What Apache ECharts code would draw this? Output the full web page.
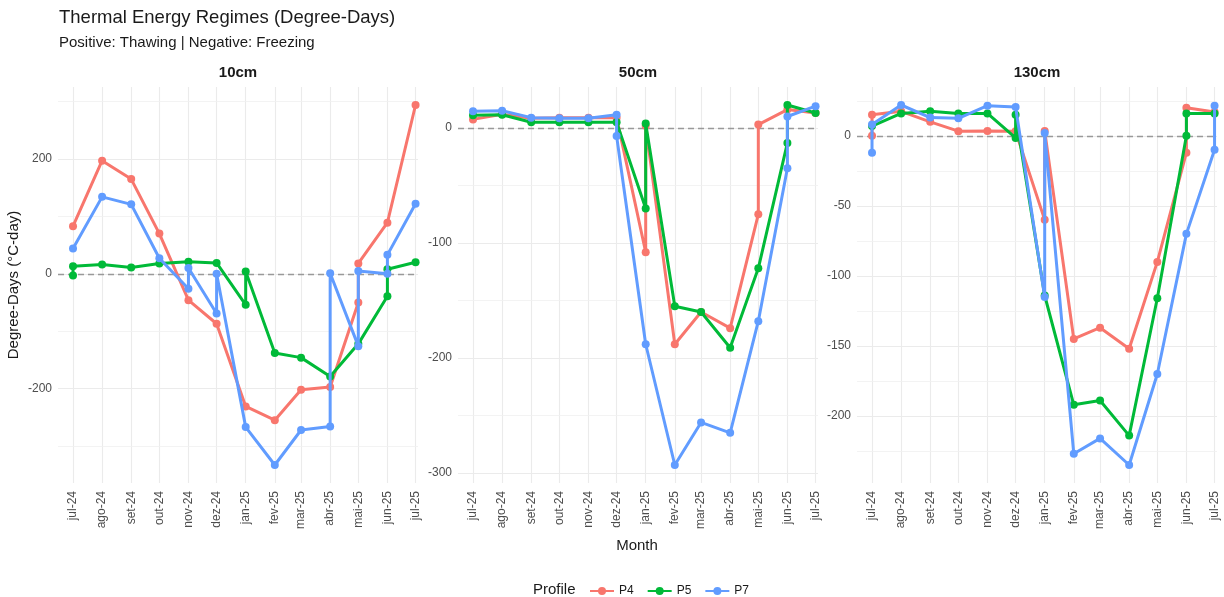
<!DOCTYPE html>
<html><head><meta charset="utf-8">
<script src="https://cdn.jsdelivr.net/npm/echarts@6/dist/echarts.min.js"></script>
<style>html,body{margin:0;padding:0;background:#fff}#c{width:1224px;height:597px}</style>
</head><body><div id="c"></div>
<script>
// ---- tick labels / categories ----
const monthLabels = ['jul-24','ago-24','set-24','out-24','nov-24','dez-24','jan-25','fev-25','mar-25','abr-25','mai-25','jun-25','jul-25'];
const monthDates  = ['2024-07-01','2024-08-01','2024-09-01','2024-10-01','2024-11-01','2024-12-01','2025-01-01','2025-02-01','2025-03-01','2025-04-01','2025-05-01','2025-06-01','2025-07-01'];
const depths = ['10cm','50cm','130cm'];
const profiles = ['P4','P5','P7'];
const profileColors = ['#F8766D','#00BA38','#619CFF'];

// ---- series values [month, degree-days] ----
const p4_10cm = [['jul-24',83],['ago-24',197],['set-24',165],['out-24',70],['nov-24',-46],['dez-24',-87],['jan-25',-231],['fev-25',-255],['mar-25',-202],['abr-25',-197],['mai-25',-50],['mai-25',18],['jun-25',89],['jul-25',294]];
const p5_10cm = [['jul-24',-3],['jul-24',13],['ago-24',16],['set-24',11],['out-24',18],['nov-24',21],['dez-24',19],['jan-25',-54],['jan-25',4],['fev-25',-138],['mar-25',-146],['abr-25',-179],['mai-25',-122],['jun-25',-39],['jun-25',8],['jul-25',20]];
const p7_10cm = [['jul-24',44],['ago-24',134],['set-24',121],['out-24',27],['nov-24',-26],['nov-24',10],['dez-24',-69],['dez-24',0],['jan-25',-267],['fev-25',-333],['mar-25',-272],['abr-25',-266],['abr-25',1],['mai-25',-126],['mai-25',5],['jun-25',0],['jun-25',33],['jul-25',122]];

const p4_50cm = [['jul-24',7.5],['ago-24',12],['set-24',8.5],['out-24',9],['nov-24',9],['dez-24',9],['jan-25',-108],['jan-25',2],['fev-25',-188],['mar-25',-160],['abr-25',-174],['mai-25',-75],['mai-25',3],['jun-25',16],['jul-25',13]];
const p5_50cm = [['jul-24',11],['ago-24',11.5],['set-24',5],['out-24',5],['nov-24',5],['dez-24',5],['jan-25',-70],['jan-25',4],['fev-25',-155],['mar-25',-160],['abr-25',-191],['mai-25',-122],['jun-25',-13],['jun-25',20],['jul-25',13]];
const p7_50cm = [['jul-24',14.5],['ago-24',15],['set-24',9],['out-24',8.5],['nov-24',8.5],['dez-24',11.5],['dez-24',-7],['jan-25',-188],['fev-25',-293],['mar-25',-256],['abr-25',-265],['mai-25',-168],['jun-25',-35],['jun-25',10],['jul-25',19]];

const p4_130cm = [['jul-24',0],['jul-24',15],['ago-24',17.5],['set-24',10],['out-24',3.3],['nov-24',3.5],['dez-24',3.3],['jan-25',-60],['jan-25',3.5],['fev-25',-145],['mar-25',-137],['abr-25',-152],['mai-25',-90],['jun-25',-12],['jun-25',20],['jul-25',17]];
const p5_130cm = [['jul-24',7],['ago-24',16],['set-24',17.5],['out-24',16],['nov-24',16],['dez-24',-1.5],['dez-24',15],['jan-25',-114],['fev-25',-192],['mar-25',-189],['abr-25',-214],['mai-25',-116],['jun-25',0],['jun-25',16],['jul-25',16]];
const p7_130cm = [['jul-24',-12],['jul-24',8],['ago-24',22],['set-24',13],['out-24',12.5],['nov-24',21.5],['dez-24',20.5],['jan-25',-115],['jan-25',2],['fev-25',-227],['mar-25',-216],['abr-25',-235],['mai-25',-170],['jun-25',-70],['jul-25',-10],['jul-25',21.5]];

// ---- y tick labels and grid breaks ----
const yMajor10 = [-200,0,200],  yMinor10 = [-300,-100,100,300];
const yMajor50 = [-300,-200,-100,0], yMinor50 = [-250,-150,-50];
const yMajor130 = [-200,-150,-100,-50,0], yMinor130 = [-225,-175,-125,-75,-25,25];

const panelData = [[p4_10cm,p5_10cm,p7_10cm],[p4_50cm,p5_50cm,p7_50cm],[p4_130cm,p5_130cm,p7_130cm]];
const majors = [yMajor10,yMajor50,yMajor130];
const minors = [yMinor10,yMinor50,yMinor130];

// ---- layout ----
const FONT = "'Liberation Sans', Arial, Helvetica, sans-serif";
const gridLefts = [58, 458, 857];
const gridW = 360, gridTop = 87, gridH = 396;
const DAY = 86400000;
const xMin = new Date('2024-07-01T00:00:00').getTime() - 16*DAY;
const xMax = new Date('2025-07-01T00:00:00').getTime() + 2.6*DAY;

const toDate = m => monthDates[monthLabels.indexOf(m)] + 'T00:00:00';
const labelFor = v => {
  const d = new Date(v);
  if (d.getDate() !== 1 || d.getHours() !== 0) return '';
  const key = d.getFullYear() + '-' + String(d.getMonth()+1).padStart(2,'0') + '-01';
  const i = monthDates.indexOf(key);
  return i >= 0 ? monthLabels[i] : '';
};

const grids = [], xAxes = [], yAxes = [], series = [];
depths.forEach((dep, i) => {
  grids.push({left: gridLefts[i], top: gridTop, width: gridW, height: gridH, containLabel: false});
  const vals = panelData[i].flat().map(p => p[1]);
  const lo = Math.min(...vals), hi = Math.max(...vals), r = hi - lo;
  xAxes.push({
    type: 'time', gridIndex: i, min: xMin, max: xMax,
    splitNumber: 12, minInterval: 28*DAY, maxInterval: 31*DAY,
    axisLine: {show: false}, axisTick: {show: false},
    splitLine: {show: false},
    axisLabel: {rotate: 90, fontSize: 12, color: '#4D4D4D', fontFamily: FONT, margin: 8,
      hideOverlap: false, formatter: labelFor}
  });
  yAxes.push({
    type: 'value', gridIndex: i, min: lo - 0.05*r, max: hi + 0.05*r,
    axisLine: {show: false}, axisTick: {show: false}, splitLine: {show: false},
    axisLabel: {customValues: majors[i], fontSize: 12, color: '#4D4D4D', fontFamily: FONT, margin: 6}
  });
  // grid lines + zero reference line (kept beneath the data lines)
  series.push({
    type: 'line', xAxisIndex: i, yAxisIndex: i, data: [], silent: true, z: 1,
    markLine: {
      z: 1, silent: true, symbol: 'none', animation: false, label: {show: false},
      emphasis: {disabled: true},
      data: [
        ...monthDates.map(m => ({xAxis: m + 'T00:00:00', lineStyle: {color: '#EBEBEB', width: 1.1, type: 'solid'}})),
        ...minors[i].map(v => ({yAxis: v, lineStyle: {color: '#F0F0F0', width: 0.8, type: 'solid'}})),
        ...majors[i].map(v => ({yAxis: v, lineStyle: {color: '#EBEBEB', width: 1.1, type: 'solid'}})),
        {yAxis: 0, lineStyle: {color: '#999999', width: 1.3, type: [6, 4]}}
      ]
    }
  });
  profiles.forEach((p, k) => {
    series.push({
      type: 'line', name: p, xAxisIndex: i, yAxisIndex: i, z: 3 + k,
      data: panelData[i][k].map(([m, v]) => [toDate(m), v]),
      symbol: 'circle', symbolSize: 8, showSymbol: true,
      lineStyle: {width: 3, color: profileColors[k]},
      itemStyle: {color: profileColors[k]},
      emphasis: {disabled: true}, animation: false
    });
  });
});

const texts = [
  {x: 59, y: 18, text: 'Thermal Energy Regimes (Degree-Days)', font: `18.5px ${FONT}`, align: 'left'},
  {x: 59, y: 43, text: 'Positive: Thawing | Negative: Freezing', font: `15px ${FONT}`, align: 'left'},
  {x: 637, y: 546, text: 'Month', font: `15px ${FONT}`, align: 'center'},
  {x: 533, y: 590, text: 'Profile', font: `15px ${FONT}`, align: 'left'}
];
depths.forEach((d, i) => texts.push({x: gridLefts[i] + gridW/2, y: 73, text: d, font: `bold 15px ${FONT}`, align: 'center'}));

const graphic = texts.map(t => ({
  type: 'text', x: t.x, y: t.y, silent: true,
  style: {text: t.text, font: t.font, fill: '#1a1a1a', textAlign: t.align, textVerticalAlign: 'middle'}
}));
graphic.push({type: 'text', x: 14, y: 285, rotation: Math.PI/2, silent: true,
  style: {text: 'Degree-Days (°C-day)', font: `15px ${FONT}`, fill: '#1a1a1a', textAlign: 'center', textVerticalAlign: 'middle'}});

const chart = echarts.init(document.getElementById('c'), null, {renderer: 'canvas'});
chart.setOption({
  backgroundColor: '#ffffff',
  animation: false,
  grid: grids, xAxis: xAxes, yAxis: yAxes, series,
  legend: {data: profiles, left: 584, top: 580, itemWidth: 24, itemHeight: 10, itemGap: 13,
    selectedMode: false, textStyle: {fontSize: 12, color: '#1a1a1a', fontFamily: FONT}},
  graphic
});
</script></body></html>
